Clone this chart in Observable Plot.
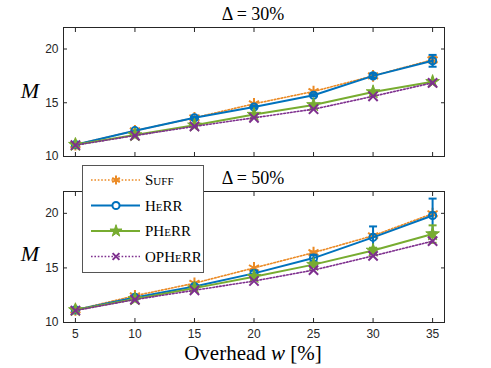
<!DOCTYPE html>
<html><head><meta charset="utf-8">
<script src="https://cdn.jsdelivr.net/npm/d3@7"></script>
<script src="https://cdn.jsdelivr.net/npm/@observablehq/plot@0.6"></script>
<style>
html,body{margin:0;padding:0;background:#fff;}
#wrap{position:relative;width:491px;height:368px;overflow:hidden;background:#fff;}
.abs{position:absolute;line-height:1;white-space:nowrap;color:#000;}
.serif{font-family:"Liberation Serif","DejaVu Serif",serif;}
svg{position:absolute;left:0;}
</style></head>
<body><div id="wrap"></div>
<script>
// ---- data ----
const overhead = [5, 10, 15, 20, 25, 30, 35];
const seriesNames = ["Suff", "HeRR", "PHeRR", "OPHeRR"];
const panelTitles = ["Δ = 30%", "Δ = 50%"];
const yTicks = [10, 15, 20];

// Δ = 30%
const suff30   = [11.1, 12.4, 13.6, 14.9, 16.05, 17.5, 19.0];
const herr30   = [11.1, 12.4, 13.6, 14.6, 15.7, 17.5, 18.9];
const pherr30  = [11.1, 12.0, 12.9, 13.9, 14.8, 16.0, 16.95];
const opherr30 = [11.05, 11.95, 12.8, 13.6, 14.4, 15.6, 16.85];
const suffErr30   = [0, 0, 0, 0, 0, 0.1, 0.3];
const herrErr30   = [0, 0, 0.1, 0.1, 0.1, 0.2, 0.55];
const pherrErr30  = [0, 0, 0, 0, 0, 0, 0];
const opherrErr30 = [0, 0, 0, 0, 0, 0, 0];

// Δ = 50%
const suff50   = [11.15, 12.45, 13.6, 15.0, 16.4, 17.95, 19.97];
const herr50   = [11.15, 12.3, 13.3, 14.5, 15.9, 17.8, 19.8];
const pherr50  = [11.15, 12.15, 13.15, 14.2, 15.3, 16.6, 18.1];
const opherr50 = [11.1, 12.1, 12.95, 13.8, 14.8, 16.1, 17.45];
const suffErr50   = [0, 0, 0, 0, 0.1, 0.1, 0.15];
const herrErr50   = [0, 0.1, 0.15, 0.25, 0.3, 1.0, 1.55];
const pherrErr50  = [0, 0, 0.1, 0.15, 0.2, 0.25, 0.8];
const opherrErr50 = [0, 0, 0, 0, 0, 0, 0];

// ---- styles ----
const colors  = {Suff: "#EB8A24", HeRR: "#0072BD", PHeRR: "#77AC30", OPHeRR: "#7E2F8E"};
const dashes  = {Suff: "1.6,1.8", HeRR: null, PHeRR: null, OPHeRR: "1.6,1.8"};
const symbols = {Suff: "asterisk", HeRR: "circle", PHeRR: "star", OPHeRR: "times"};
const symR    = {Suff: 5.5, HeRR: 3.6, PHeRR: 4.3, OPHeRR: 4.3};
const symFill = {Suff: "none", HeRR: "none", PHeRR: "#77AC30", OPHeRR: "none"};
const legSize = {Suff: 55, HeRR: 40, PHeRR: 45, OPHeRR: 32};

const capSymbol = {draw(ctx, size) { const r = 4; ctx.moveTo(-r, 0); ctx.lineTo(r, 0); }};

function buildRows(valsList, errsList) {
  const rows = [];
  seriesNames.forEach((s, k) => {
    overhead.forEach((x, i) => rows.push({x, y: valsList[k][i], e: errsList[k][i], s}));
  });
  return rows;
}

const wrap = document.getElementById("wrap");

function panel(rows, top, height, marginTop, marginBottom, showXLabels) {
  const marks = [
    Plot.frame({stroke: "#262626", strokeWidth: 1}),
    Plot.axisY({anchor: "left", ticks: yTicks, tickSize: 0, tickPadding: 5, label: null,
      fontSize: 12, fontFamily: "Liberation Sans, Arial, sans-serif", fill: "#262626"}),
    Plot.axisY({anchor: "left", ticks: yTicks, tickSize: -4, tickFormat: () => "", label: null, stroke: "#262626"}),
    Plot.axisY({anchor: "right", ticks: yTicks, tickSize: -4, tickFormat: () => "", label: null, stroke: "#262626"}),
    Plot.axisX({anchor: "top", ticks: overhead, tickSize: -4, tickFormat: () => "", label: null, stroke: "#262626"}),
    Plot.axisX({anchor: "bottom", ticks: overhead, tickSize: -4, tickFormat: () => "", label: null, stroke: "#262626"})
  ];
  if (showXLabels) {
    marks.push(Plot.axisX({anchor: "bottom", ticks: overhead, tickSize: 0, tickPadding: 7, label: null,
      fontSize: 12, fontFamily: "Liberation Sans, Arial, sans-serif", fill: "#262626"}));
  }
  for (const s of seriesNames) {
    const d = rows.filter(r => r.s === s);
    const de = d.filter(r => r.e > 0);
    marks.push(
      Plot.line(d, {x: "x", y: "y", stroke: colors[s], strokeWidth: s === "Suff" || s === "OPHeRR" ? 1.6 : 2,
        strokeDasharray: dashes[s]}),
      Plot.ruleX(de, {x: "x", y1: r => r.y - r.e, y2: r => r.y + r.e, stroke: colors[s], strokeWidth: 2}),
      Plot.dot(de, {x: "x", y: r => r.y - r.e, symbol: capSymbol, r: 4, stroke: colors[s], strokeWidth: 2}),
      Plot.dot(de, {x: "x", y: r => r.y + r.e, symbol: capSymbol, r: 4, stroke: colors[s], strokeWidth: 2}),
      Plot.dot(d, {x: "x", y: "y", symbol: symbols[s], r: symR[s], stroke: colors[s],
        fill: symFill[s], strokeWidth: s === "PHeRR" ? 1 : 2})
    );
  }
  const svg = Plot.plot({
    width: 491, height, marginLeft: 63, marginRight: 47, marginTop, marginBottom,
    x: {domain: [4, 36]},
    y: {domain: [10, 22]},
    style: {background: "transparent", overflow: "visible"},
    marks
  });
  svg.style.top = top + "px";
  wrap.appendChild(svg);
}

panel(buildRows([suff30, herr30, pherr30, opherr30], [suffErr30, herrErr30, pherrErr30, opherrErr30]), 0, 160, 27, 4, false);
panel(buildRows([suff50, herr50, pherr50, opherr50], [suffErr50, herrErr50, pherrErr50, opherrErr50]), 164, 204, 27, 46, true);

// ---- texts ----
function addText(html, left, top, size, extra) {
  const el = document.createElement("div");
  el.className = "abs serif";
  el.innerHTML = html;
  el.style.left = left + "px";
  el.style.top = top + "px";
  el.style.fontSize = size + "px";
  el.style.transform = "translateX(-50%)";
  if (extra) Object.assign(el.style, extra);
  wrap.appendChild(el);
}
addText(panelTitles[0], 253, 5, 18);
addText(panelTitles[1], 253, 169, 18);
addText("<i>M</i>", 30, 80, 22);
addText("<i>M</i>", 30, 243, 22);
addText("Overhead <i>w</i> [%]", 253, 343, 21);

// ---- legend ----
const leg = d3.create("svg").attr("width", 122).attr("height", 108)
  .style("left", "82px").style("top", "165px");
leg.append("rect").attr("x", 0.5).attr("y", 0.5).attr("width", 121).attr("height", 107)
  .attr("fill", "#fff").attr("stroke", "#555").attr("stroke-width", 1);
const typeMap = {asterisk: d3.symbolAsterisk, circle: d3.symbolCircle, star: d3.symbolStar, times: d3.symbolTimes};
seriesNames.forEach((s, k) => {
  const y = 15 + k * 25.5;
  const g = leg.append("g");
  g.append("line").attr("x1", 9).attr("x2", 58).attr("y1", y).attr("y2", y)
    .attr("stroke", colors[s]).attr("stroke-width", s === "Suff" || s === "OPHeRR" ? 1.6 : 2)
    .attr("stroke-dasharray", dashes[s]);
  g.append("path").attr("transform", `translate(34,${y})`)
    .attr("d", d3.symbol(typeMap[symbols[s]], legSize[s])())
    .attr("fill", symFill[s] === "none" ? (s === "HeRR" ? "#fff" : "none") : symFill[s])
    .attr("stroke", colors[s]).attr("stroke-width", s === "PHeRR" ? 1 : 2);
  g.append("text").attr("x", 63).attr("y", y + 5)
    .attr("font-family", "Liberation Serif, DejaVu Serif, serif").attr("font-size", 15)
    .style("font-variant", "small-caps").attr("fill", "#000").text(s);
});
wrap.appendChild(leg.node());
</script>
</body></html>
